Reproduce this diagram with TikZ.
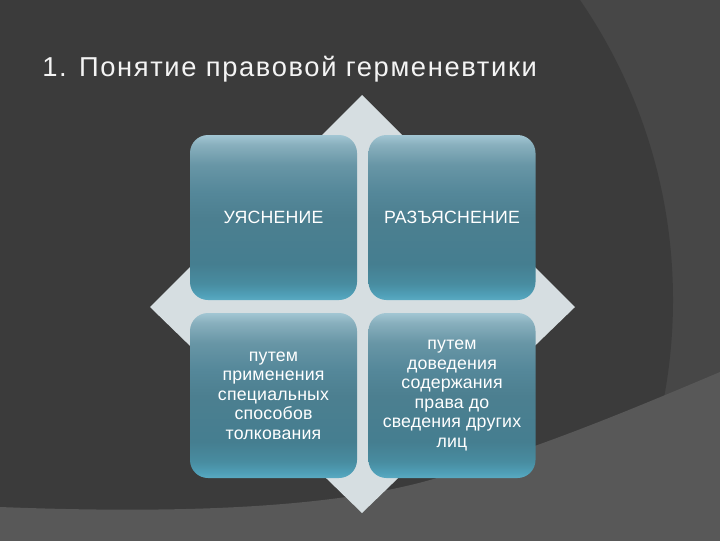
\documentclass[tikz,border=0pt]{standalone}
\usepackage{fontspec}
\setmainfont{Liberation Sans}
\usetikzlibrary{positioning}

\definecolor{bgdark}{HTML}{3B3B3B}
\definecolor{bgmid}{HTML}{474747}
\definecolor{bglight}{HTML}{585858}
\definecolor{diamondgray}{HTML}{D6DEE1}
\definecolor{titlewhite}{HTML}{F4F4F4}
\definecolor{tealA}{HTML}{5AAAC2}
\definecolor{tealB}{HTML}{50A0B8}
\definecolor{tealC}{HTML}{488CA0}
\definecolor{tealD}{HTML}{457E90}
\definecolor{tealE}{HTML}{4C7F90}
\definecolor{tealF}{HTML}{55889A}
\definecolor{tealG}{HTML}{6896A6}
\definecolor{tealH}{HTML}{88AFBD}
\definecolor{tealI}{HTML}{A2C6D3}

% bottom of the box = 25bp, top = 75bp
\pgfdeclareverticalshading{tealshade}{100bp}{color(0bp)=(tealA); color(25bp)=(tealA);
  color(26.5bp)=(tealB); color(30bp)=(tealC); color(36bp)=(tealD); color(50bp)=(tealE);
  color(58bp)=(tealF); color(66bp)=(tealG); color(72bp)=(tealH); color(75bp)=(tealI);
  color(100bp)=(tealI)}

\begin{document}
\begin{tikzpicture}[x=0.75pt, y=-0.75pt,
      quad/.style={rectangle, rounded corners=13.5pt, shading=tealshade,
        minimum width=125.25pt, minimum height=123.75pt, inner sep=0pt,
        text=white, align=center,
        font=\fontsize{13.3}{14.6}\selectfont\addfontfeatures{LetterSpace=1}},
      heading/.style={anchor=base west, inner sep=0pt, text=titlewhite,
        font=\fontsize{20.5}{24}\selectfont\addfontfeatures{LetterSpace=6}}]
      \useasboundingbox (0,0) rectangle (720,540);
      % background
      \fill[bgmid] (-10,-10) rectangle (730,550);
      \fill[bgdark] (143,300) circle [radius=530];
      \fill[bglight] (-10,507) -- (0,507) .. controls (180,514) and (330,508) .. (430,480)
        .. controls (540,448) and (630,410) .. (720,372) -- (730,368) -- (730,550) -- (-10,550) -- cycle;
      \node[heading] at (42,76) (title) {1. Понятие правовой герменевтики};
      \fill[diamondgray] (362,95) -- (575,307) -- (362,513) -- (150,307) -- cycle;
      \node[quad] at (273.5,217.5) (ul) {УЯСНЕНИЕ};
      \node[quad] at (452,217.5)   (ur) {РАЗЪЯСНЕНИЕ};
      \node[quad] at (273.5,395.5) (ll) {путем\\применения\\специальных\\способов\\толкования};
      \node[quad] at (452,395.5)   (lr) {путем\\доведения\\содержания\\права до\\сведения других\\лиц};
    \end{tikzpicture}
\end{document}
